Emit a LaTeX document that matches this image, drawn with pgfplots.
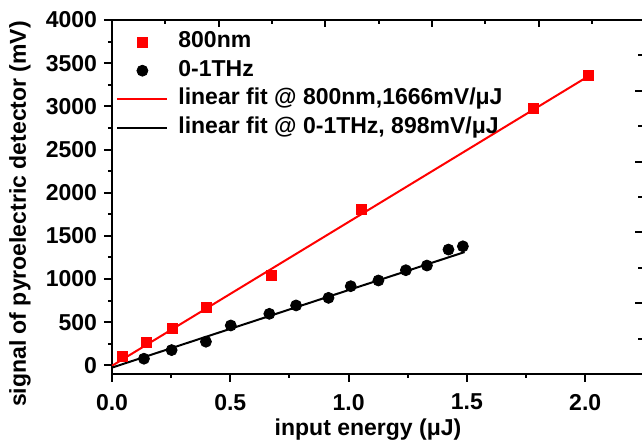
\documentclass[border=0pt]{standalone}
\usepackage{fontspec}
\setmainfont{Liberation Sans}
\usepackage{pgfplots}
\pgfplotsset{compat=1.18}
\usetikzlibrary{calc}

\begin{document}
\begin{tikzpicture}[font=\fontsize{11.5}{13.5}\selectfont\bfseries]
\begin{axis}[
    name=main,
    scale only axis, width=265pt, height=177pt,
    xmin=0, xmax=2.24, ymin=-100, ymax=4000,
    axis x line*=bottom, axis y line*=left,
    axis line style={line width=1pt, -},
    every tick/.append style={black, line width=1pt},
    tick align=outside,
    major tick length=4pt, minor tick length=2pt,
    xtick={0,0.5,1.0,1.5,2.0}, minor xtick={0.25,0.75,1.25,1.75},
    ytick={0,500,...,4000}, minor ytick={250,750,...,3750},
    xticklabel style={yshift=-2.5pt, /pgf/number format/.cd, fixed, fixed zerofill, precision=1},
    yticklabel style={/pgf/number format/1000 sep={}},
    /pgf/number format/assume math mode=true,
    xlabel={input energy (μJ)},
    ylabel={signal of pyroelectric detector (mV)},
    xlabel style={at={(axis description cs:0.483,0)}, anchor=north, inner sep=0pt, yshift=-22pt},
    ylabel style={at={(axis description cs:-0.1736,0.452)}, anchor=center, inner sep=0pt},
    legend cell align=left,
    legend style={at={(axis description cs:0,1)}, anchor=north west, xshift=2pt, yshift=-5.5pt,
        draw=none, fill=none, inner sep=0pt, row sep=3.6pt, column sep=5pt,
        nodes={inner sep=0pt, text height=8.2pt, text depth=2.5pt}},
    legend image code/.code={\draw[mark repeat=2,mark phase=2,#1] plot coordinates {(0pt,0pt) (12.5pt,0pt) (25pt,0pt)};},
]
% 800 nm
\addplot[only marks, mark=square*, mark size=2.5pt, color=red] coordinates {
    (0.045,100) (0.147,270) (0.257,424) (0.400,667) (0.675,1040)
    (1.056,1806) (1.781,2979) (2.014,3353)
};
\addlegendentry{800nm}
% 0-1 THz
\addplot[only marks, mark=*, mark size=2.75pt, color=black] coordinates {
    (0.135,77) (0.252,177) (0.397,274) (0.502,462) (0.665,597) (0.778,694)
    (0.915,782) (1.009,917) (1.126,983) (1.242,1102) (1.331,1156)
    (1.422,1341) (1.483,1379)
};
\addlegendentry{0-1THz}
% fits
\addplot[red, line width=1pt] coordinates {(0,-5) (2.02,3360)};
\addlegendentry{linear fit @ 800nm,1666mV/μJ}
\addplot[black, line width=1pt] coordinates {(0,-26) (1.49,1312)};
\addlegendentry{linear fit @ 0-1THz, 898mV/μJ}
\end{axis}

% top and right ticks of the neighbouring frame
\begin{axis}[
    at={(main.south west)}, anchor=south west,
    scale only axis, width=265pt, height=177pt,
    xmin=0, xmax=9.94, ymin=0, ymax=10,
    axis x line*=top, axis y line*=right,
    x axis line style={line width=1pt, -},
    y axis line style={draw=none},
    every tick/.append style={black, line width=1pt},
    tick align=inside,
    major tick length=3.3pt, minor tick length=1.8pt,
    xtick={2,4,6,8}, minor xtick={1,3,5,7,9},
    ytick={2,4,6,8}, minor ytick={1,3,5,7,9},
    xticklabels={}, yticklabels={},
]
\end{axis}

\pgfresetboundingbox
\path ($(main.south west)+(-56pt,-34.5pt)$) rectangle ($(main.north east)+(0pt,10pt)$);
\end{tikzpicture}
\end{document}
